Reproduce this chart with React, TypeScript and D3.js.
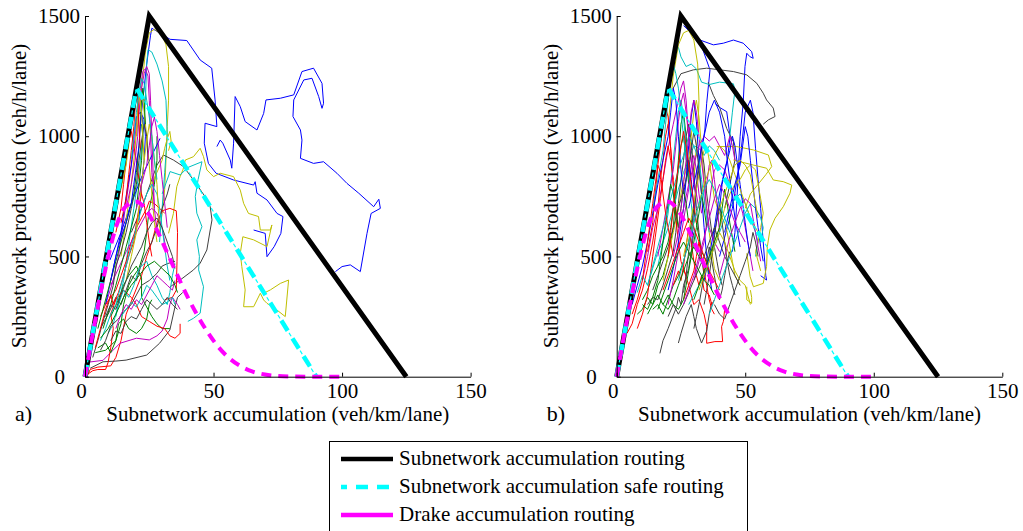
import * as React from "react";
import { useRef, useEffect } from "react";
import * as d3 from "d3";

// axis ticks
const xTicks = [0, 50, 100, 150];
const yTicks = [0, 500, 1000, 1500];

// reference curves, flat [k, p, k, p, ...] in veh/km/lane and veh/h/lane
const mfdCurve = [0, 0, 25, 1500, 125, 0];
const safeCurve = [0, 0, 20, 1200, 90, 0];
const drakeCurve = [0, 0, 4, 235, 8, 450, 12, 620, 16, 710, 20, 728, 24, 690, 28, 610, 32, 515, 36, 420, 40, 330, 44, 250, 48, 180, 52, 122, 56, 78, 60, 47, 65, 22, 70, 9, 75, 3, 80, 1, 90, 0, 100, 0];

const legendLabels = [
  "Subnetwork accumulation routing",
  "Subnetwork accumulation safe routing",
  "Drake accumulation routing",
];

// panel a) measured subnetwork trajectories
const trajA = [
  [22, 1100, 24, 1300, 25.5, 1420, 26, 1449, 33.1, 1403, 39.6, 1398, 44.8, 1317, 49.3, 1283, 50.6, 1151, 51.3, 1040, 46.7, 1054, 46.4, 971, 48, 887, 51, 846, 57.8, 818, 65.6, 797, 66.2, 811, 66.9, 763, 70.8, 735, 74.7, 679, 77, 666, 76.2, 596, 73.6, 541, 70.8, 499, 70.1, 596, 65.6, 610],
  [51.3, 957, 52.6, 984, 53.6, 971, 56.5, 901, 57.1, 867, 57.8, 971, 58.4, 1165, 60.4, 1123, 62.3, 1061, 66.9, 1026, 69.5, 1095, 70.4, 1151, 76, 1158, 81.2, 1172, 84.4, 1269, 88.9, 1283, 92.2, 1220, 92.8, 1137, 92.2, 1116, 90.9, 1165, 88.3, 1241, 85.1, 1234, 81.2, 1151, 80.9, 1082, 83.8, 1026, 84.4, 984, 83.8, 908, 88.9, 887, 92.8, 894, 98, 846, 101.9, 804, 106.5, 763, 112.3, 707, 114.3, 738, 114.9, 700, 111.3, 679, 109.7, 596, 107.1, 437, 103.2, 465, 100, 458, 97.4, 437],
  [20, 1000, 22, 1200, 23.5, 1350, 25, 1430, 27, 1445, 30, 1420, 31.5, 1380, 32.5, 1290, 32.5, 1150, 32, 1040, 31.5, 900, 31, 780, 30, 680, 29, 600],
  [32.5, 596, 34.4, 679, 35.7, 790, 37, 832, 38.1, 860, 39, 901, 42.2, 915, 44.8, 950, 46.1, 915, 47.4, 860, 50, 832, 52.6, 846, 57.8, 832, 60.4, 776, 61.7, 721, 63.6, 679, 67.5, 666, 68.2, 610, 72.1, 610, 72.7, 631, 70.8, 541, 65.6, 569, 61.4, 582, 60.4, 513, 61, 458, 62.3, 361, 61.7, 291, 65.6, 291, 68.2, 347, 69.5, 319, 70.8, 305, 74.7, 277, 77.9, 250, 79.2, 402, 76, 388, 72.1, 361, 69.5, 347],
  [12, 250, 15, 400, 17, 550, 19, 700, 21, 850, 22.5, 1000, 23.5, 1150, 24, 1300, 24.5, 1360, 26, 1350, 28, 1300, 30, 1230, 31.5, 1150, 32, 1000, 31, 850, 30, 700, 29, 560],
  [30, 760, 33.1, 853, 37, 839, 40, 870, 45.5, 894, 44, 820, 42.9, 749, 43.5, 680, 45.5, 624, 43.5, 569, 44.5, 500, 44.2, 444, 46.1, 374, 44.8, 264, 42.2, 243, 40, 230],
  [18, 600, 22, 700, 26, 820, 28, 880, 30.5, 922, 34.4, 901, 38.3, 874, 42.2, 818, 46.7, 749, 48.7, 707, 49.4, 652, 48.7, 610, 47.4, 527, 44.8, 472, 42.2, 444, 37, 402, 33.1, 374],
  [1, 5, 2, 30, 5, 40, 10, 45, 12, 80, 14, 150, 16, 260, 19, 340, 22, 420, 24, 500, 26, 560, 28, 640, 30, 690, 33, 700, 35.5, 690, 36, 600, 35.8, 480, 35.5, 360, 34, 330, 31, 320],
  [2, 35, 7, 62, 12, 65, 16, 69, 24, 90, 29, 139, 33, 194, 35, 290, 36, 330, 38, 350],
  [1, 60, 7, 68, 13.6, 139, 20, 160, 25, 153, 28, 170, 30, 190, 32, 240, 33, 300, 34, 330, 36, 300, 37, 280],
  [4, 100, 8, 110, 12, 150, 14, 220, 15, 300, 17, 380, 19, 420, 21, 450, 23, 520, 24, 600, 25, 700, 27, 800, 28, 900, 28, 1000],
  [10, 250, 13, 320, 15, 380, 17, 420, 20, 460, 22, 410, 22, 330, 24, 290, 26, 250, 28, 220, 30, 200, 33, 200],
  [8, 300, 11, 400, 13, 500, 15, 650, 17, 800, 19, 950, 20.5, 1100, 21.5, 1200, 22.5, 1270, 23.5, 1280, 24.5, 1250, 25, 1150, 25.5, 1000, 26, 850, 27, 700, 28, 600],
  [8, 300, 11, 450, 14, 600, 16, 750, 18, 880, 19, 1000, 20, 1080, 21.5, 1100, 23, 1070, 23.5, 1000, 23, 900, 22, 800, 21, 650],
  [9.7, 485, 14, 600, 18, 720, 22, 830, 26, 920, 29.2, 991],
  [6, 250, 8, 300, 10, 330, 12, 360, 14, 420, 16, 480, 18, 560, 20, 620, 22, 660, 24, 700, 25, 730, 27, 720, 29, 700, 31, 680],
  [14, 500, 16, 650, 18, 800, 19.5, 950, 20.5, 1100, 21, 1200, 22, 1190, 23, 1100, 24, 1000, 25, 880, 26, 760, 27, 640, 28, 560],
  [6, 200, 9, 260, 12, 330, 14, 300, 16, 360, 18, 420, 20, 400, 22, 470, 24, 520, 26, 560, 28, 620, 30, 700, 32, 760, 33, 800],
  [1, 10, 3, 25, 5, 30, 8, 30, 9, 60, 10, 120, 11, 200, 10, 260, 12, 320, 15, 360, 18, 330, 20, 300, 22, 250, 25, 230, 28, 210, 31, 200, 33, 170, 35, 160, 37, 180, 37, 220],
  [9, 180, 11, 220, 13, 300, 15, 360, 17, 330, 19, 380, 21, 450, 24, 480, 26, 420, 28, 380, 30, 330, 32, 300, 33, 350, 34, 420, 35, 470],
  [10, 380, 13, 450, 16, 520, 19, 580, 22, 640, 24, 680, 26, 700, 28, 680, 30, 620, 31, 560, 32, 520, 33, 480, 34, 460],
  [5, 120, 8, 140, 10, 100, 12, 150, 13, 220, 15, 240, 17, 200, 20, 180, 22, 200, 24, 240, 25, 300, 26, 320],
  [6, 110, 8, 150, 10, 210, 13, 240, 15, 270, 18, 300, 20, 340, 22, 380, 25, 400, 28, 430, 30, 460, 32, 470, 35, 480],
  [26, 800, 28, 850, 30, 900, 31, 950, 32, 990, 33, 1020, 33.5, 980, 32.5, 940],
  [12, 600, 14, 700, 15, 800, 16, 900, 17, 980, 18, 1020, 19, 960, 20, 900, 21, 820, 22, 760],
  [14, 250, 16, 280, 18, 310, 20, 290, 22, 330, 24, 380, 26, 360, 28, 330, 30, 300, 32, 310, 34, 330, 35, 300],
  [7, 200, 10, 300, 12, 380, 14, 460, 16, 540, 18, 620, 20, 700, 21, 800, 22, 900, 22.5, 1000, 22, 1050],
  [16, 700, 18, 800, 19.5, 900, 20.5, 1000, 21, 1100, 22, 1200, 23, 1260, 24, 1290, 25, 1260, 25.5, 1150, 26, 1000, 26.5, 850, 27, 700],
  [3, 80, 5, 150, 7, 230, 9, 300, 11, 380, 12, 460, 14, 520, 16, 600, 18, 700, 20, 800, 21, 900, 22, 980, 23, 1050, 24, 1000, 24.5, 900],
  [4, 120, 6, 200, 8, 280, 10, 340, 11, 300, 13, 350, 15, 420, 17, 500, 19, 560, 20, 640, 21, 700, 22, 760, 23, 720, 24, 640, 25, 560, 26, 500],
  [6, 150, 8, 200, 10, 260, 12, 300, 14, 380, 16, 460, 18, 540, 20, 620, 22, 700, 24, 760, 26, 800, 28, 760, 29, 700, 30, 620, 31, 540, 32, 460, 33, 400],
  [5, 200, 7, 280, 9, 360, 11, 440, 13, 520, 15, 600, 17, 680, 19, 760, 20, 850, 21, 950, 21.5, 1050, 22, 1150, 22.5, 1200, 23, 1150, 23.5, 1050],
  [12, 200, 14, 260, 16, 300, 18, 280, 20, 320, 22, 300, 24, 340, 26, 380, 28, 420, 30, 400, 32, 380, 34, 360, 35, 400],
  [16, 400, 18, 500, 20, 600, 21, 700, 22, 800, 23, 900, 24, 980, 25, 1050, 26, 1000, 27, 900, 28, 800, 28.5, 700, 29, 620],
  [10, 400, 12, 500, 14, 580, 16, 640, 18, 720, 19, 800, 20, 880, 21, 960, 21.5, 1040, 22, 1100, 22.5, 1050],
  [8, 250, 10, 300, 12, 280, 14, 340, 16, 400, 18, 460, 20, 500, 22, 540, 24, 600, 26, 640, 28, 660, 30, 620, 32, 560, 34, 500, 35, 450],
  [14, 640, 16, 740, 17, 840, 18, 940, 19, 1040, 19.5, 1120, 20, 1180, 20.5, 1150, 21, 1050, 21.5, 950],
  [6, 160, 9, 200, 12, 260, 15, 330, 18, 380, 21, 420, 24, 460, 27, 480, 30, 450, 33, 420, 35, 380, 36, 350],
  [18, 900, 19, 1000, 20, 1100, 21, 1180, 22, 1240, 23, 1220, 24, 1150, 25, 1080, 26, 1000, 27, 900, 28, 820],
  [20, 700, 22, 800, 24, 880, 25, 960, 26, 1040, 27, 1080, 28, 1020, 29, 920, 30, 820, 31, 720, 32, 620],
  [10, 150, 12, 190, 14, 180, 16, 230, 18, 250, 20, 240, 22, 280, 24, 320, 26, 300, 28, 280, 30, 300, 32, 330, 34, 300, 36, 280],
  [12, 700, 14, 780, 16, 880, 17, 960, 18, 1060, 19, 1150, 20, 1200, 21, 1180, 22, 1100, 22.5, 1000, 23, 900],
];
const trajAColors = ["b", "b", "y", "y", "c", "c", "k", "r", "k", "m", "g", "g", "m", "b", "b", "r", "y", "k", "r", "c", "m", "g", "k", "y", "r", "c", "g", "m", "k", "r", "c", "g", "m", "y", "b", "k", "r", "g", "c", "m", "k", "y"];

// panel b) measured subnetwork trajectories
const trajB = [
  [26, 1460, 28, 1440, 30, 1420, 32.4, 1400, 37.6, 1380, 41.5, 1387, 45.4, 1400, 49.2, 1387, 52.5, 1352, 53.1, 1324, 51.8, 1331, 50.6, 1345, 49.9, 1290, 49.2, 1137, 48, 998, 47.3, 860, 46.7, 721, 46, 600, 45, 520],
  [33.5, 1360, 36.3, 1276, 35, 1137, 34.3, 1026, 32.4, 901, 31, 780, 30, 650, 29, 540],
  [38.2, 1137, 40, 1120, 42.8, 1102, 44.1, 998, 43, 900, 41, 800, 40, 700, 38, 600, 37, 500],
  [40, 500, 45, 700, 48, 900, 50, 1100, 52, 1150, 53, 1100, 54, 950, 55, 820, 56, 700, 57, 560, 58, 420, 58.3, 402, 56, 420],
  [22, 1200, 25, 1260, 29.8, 1276, 35, 1283, 40.2, 1276, 45.4, 1269, 50.6, 1255, 54.5, 1220, 57, 1179, 58.3, 1151, 60.9, 1117, 61.6, 1082, 59, 1068, 57, 1050],
  [35.6, 1225, 37.6, 1170, 40.2, 1115, 42.8, 1032, 45.4, 977, 46, 900, 44, 800, 42, 700],
  [23, 1360, 24, 1370, 25, 1330, 27, 1290, 29, 1300, 31, 1280, 33, 1225, 36, 1215, 40, 1225, 44, 1220, 45.4, 1218, 46, 1190, 45, 1100, 44, 1000],
  [20, 1050, 22, 1250, 24, 1380, 26, 1430, 28, 1440, 30, 1400, 31.5, 1300, 32, 1150, 31.5, 1000, 30.5, 900, 30, 800],
  [45.4, 901, 53.2, 880, 58.3, 867, 60.9, 818, 64.8, 811, 68.1, 797, 67.4, 763, 64.8, 707, 61.6, 659, 59.6, 610, 58.6, 541, 58.3, 458, 57, 388, 53.2, 374, 51.9, 416, 50.6, 513],
  [38.9, 957, 46.7, 957, 53.2, 943, 59, 922, 60.3, 874, 58, 840, 55, 800, 52, 760, 50, 700],
  [50.6, 374, 50.6, 320, 52.5, 305, 52.5, 330, 52, 360],
  [26, 450, 28, 380, 30, 300, 32, 320, 34, 260, 35, 208, 35, 139, 38.2, 146, 41.2, 146, 40.8, 208, 41.5, 230, 42, 280],
  [16.8, 97, 18, 150, 20, 200, 23.3, 291, 24, 330, 25, 300, 26, 380, 28, 450, 29, 520, 30, 600],
  [24, 140, 25, 180, 27, 250, 29, 300, 30, 250, 31, 200, 33, 140, 35, 190, 36, 260, 37, 310],
  [4, 180, 6, 220, 8, 300, 10, 360, 12, 450, 14, 560, 16, 700, 17, 820, 18, 900, 19, 1000, 20, 1050, 21, 950, 22, 800, 23, 700, 24, 620],
  [8, 260, 10, 280, 12, 330, 14, 300, 16, 380, 18, 420, 20, 500, 22, 620, 23, 750, 24, 900, 25, 1050, 26, 1100, 27, 1000, 28, 850, 29, 750],
  [10, 400, 12, 500, 14, 620, 16, 700, 18, 820, 20, 950, 22, 1050, 24, 1150, 25, 1200, 26, 1230, 27, 1150, 28, 1000, 29, 900, 30, 800, 31, 750],
  [8, 350, 10, 420, 12, 380, 14, 450, 16, 520, 18, 560, 20, 620, 22, 700, 24, 780, 26, 850, 28, 900, 30, 960, 32, 950, 34, 920, 36, 960, 38, 940, 40, 900],
  [12, 300, 14, 330, 16, 320, 18, 380, 20, 450, 22, 520, 23, 600, 24, 720, 25, 820, 26, 900, 27, 1000, 28, 1050, 29, 980, 30, 850, 31, 700, 32, 600, 33, 500, 34, 420],
  [12, 520, 14, 640, 15, 760, 16, 880, 17, 960, 18, 1050, 19, 1120, 20, 1080, 21, 950, 22, 800, 23, 660, 24, 560, 25, 480, 27, 420],
  [14, 280, 16, 300, 18, 260, 20, 320, 22, 380, 24, 420, 26, 480, 28, 560, 29, 640, 30, 700, 31, 640, 32, 580, 33, 520, 35, 480, 36, 400],
  [18, 400, 20, 500, 22, 600, 24, 700, 26, 820, 28, 900, 29, 1000, 30, 1100, 31, 1150, 32, 1080, 33, 950, 34, 820, 35, 700, 36, 600, 37, 520, 38, 450, 40, 400],
  [20, 300, 22, 400, 24, 520, 26, 650, 28, 780, 29, 880, 30, 920, 31, 860, 32, 760, 33, 680, 34, 720, 35, 800, 36, 880, 37, 900, 38, 820, 39, 720, 40, 600],
  [16, 460, 18, 560, 20, 680, 21, 800, 22, 900, 23, 1000, 24, 1100, 25, 1150, 26, 1080, 27, 960, 28, 840, 29, 720, 30, 620, 31, 560, 32, 520, 33, 470],
  [26, 350, 27, 420, 28, 520, 29, 600, 30, 700, 31, 800, 32, 900, 33, 950, 34, 880, 35, 760, 36, 680, 37, 600, 38, 540, 39, 480, 40, 420, 41, 380],
  [20, 360, 22, 450, 24, 560, 26, 700, 27, 820, 28, 960, 29, 1080, 30, 1150, 31, 1060, 32, 900, 33, 760, 34, 620, 35, 500, 36, 420, 37, 360],
  [22, 380, 24, 440, 25, 400, 26, 460, 27, 540, 28, 620, 29, 560, 30, 480, 31, 420, 32, 380, 33, 420, 34, 360, 36, 340, 37, 300, 38, 320],
  [10, 320, 12, 360, 14, 420, 16, 460, 18, 500, 20, 560, 21, 620, 22, 700, 23, 780, 24, 860, 25, 960, 26, 1000, 27, 920, 28, 800],
  [26, 500, 28, 600, 30, 720, 32, 840, 33, 900, 34, 940, 35, 960, 36, 900, 37, 820, 38, 740, 40, 680, 42, 640, 43, 600, 44, 540, 45, 480, 46, 420, 48, 380],
  [30, 400, 32, 480, 34, 560, 35, 640, 36, 720, 37, 800, 38, 860, 40, 880, 42, 860, 44, 800, 46, 760, 48, 720, 49, 680, 50, 620, 51, 560, 52, 500, 53, 440],
  [28, 300, 30, 340, 32, 380, 34, 420, 36, 480, 38, 540, 40, 600, 42, 660, 44, 700, 46, 740, 48, 760, 50, 720, 52, 660, 54, 600, 55, 560, 54, 500],
  [34, 300, 35, 360, 36, 420, 37, 500, 38, 580, 39, 660, 40, 720, 41, 640, 42, 560, 43, 480, 44, 420, 45, 380, 46, 340],
  [34, 400, 36, 500, 38, 620, 40, 760, 42, 860, 44, 940, 45, 1000, 46, 960, 47, 880, 48, 800, 49, 720, 50, 640, 51, 560, 52, 500],
  [26, 320, 28, 380, 30, 440, 31, 500, 32, 560, 33, 500, 34, 440, 35, 380, 36, 320, 37, 280, 38, 260],
  [18, 300, 20, 340, 22, 300, 24, 280, 26, 320, 27, 380, 28, 440, 29, 500, 30, 560, 31, 620, 32, 680, 33, 760, 34, 700, 35, 620],
  [24, 600, 26, 700, 28, 800, 30, 880, 32, 960, 34, 1000, 36, 980, 38, 1000, 40, 960, 42, 920, 44, 1000, 45, 960, 46, 900],
  [36, 500, 38, 560, 40, 620, 42, 700, 44, 760, 46, 800, 48, 820, 50, 860, 52, 880, 54, 860, 55, 800, 56, 740, 57, 680, 56, 620, 55, 560, 54, 520, 55, 480, 56, 440],
  [14, 700, 16, 820, 18, 940, 19, 1050, 20, 1150, 21, 1250, 22, 1300, 23, 1260, 24, 1200, 25, 1100, 26, 1000, 27, 900],
  [30, 200, 31, 250, 32, 300, 33, 360, 34, 420, 35, 480, 36, 540, 37, 480, 38, 420, 39, 360, 40, 320, 41, 360, 42, 420, 43, 480, 44, 520],
  [8, 200, 10, 260, 12, 340, 13, 420, 14, 500, 15, 580, 16, 660, 17, 740, 18, 820, 19, 900, 20, 960, 21, 900, 22, 820],
  [12, 260, 14, 300, 16, 340, 18, 300, 20, 280, 22, 320, 24, 380, 26, 440, 28, 500, 30, 540, 32, 500, 34, 460],
  [16, 500, 18, 620, 20, 740, 22, 860, 23, 960, 24, 1060, 25, 1140, 26, 1180, 27, 1100, 28, 1000, 29, 900, 30, 820, 31, 760, 32, 700],
  [6, 300, 8, 380, 10, 460, 12, 560, 14, 680, 16, 800, 18, 900, 20, 1000, 21, 1100, 22, 1200, 23, 1150, 24, 1000, 25, 860, 26, 760, 27, 820, 28, 900, 29, 820, 30, 700],
  [10, 300, 12, 280, 14, 330, 16, 400, 17, 480, 18, 560, 19, 640, 20, 720, 21, 800, 22, 760, 23, 680, 24, 620, 25, 700, 26, 780, 27, 720, 28, 640],
  [6, 260, 8, 320, 10, 400, 11, 480, 12, 560, 13, 640, 14, 720, 15, 800, 16, 880, 17, 850, 18, 760, 19, 680, 20, 620, 21, 560, 22, 500],
  [12, 380, 14, 460, 16, 540, 18, 620, 20, 700, 22, 780, 24, 860, 26, 920, 28, 1000, 30, 960, 32, 900, 33, 820, 34, 740, 35, 660, 36, 600],
  [22, 500, 24, 600, 25, 700, 26, 800, 27, 900, 28, 1000, 29, 1100, 30, 1150, 31, 1100, 32, 1000, 33, 900, 34, 800, 35, 700, 36, 620, 38, 560, 40, 520],
  [28, 560, 30, 640, 32, 720, 34, 800, 36, 860, 38, 920, 40, 960, 42, 940, 44, 900, 46, 840, 48, 780, 50, 720, 52, 660, 54, 620, 56, 580],
  [20, 250, 22, 300, 24, 260, 26, 300, 28, 350, 30, 400, 32, 450, 34, 500, 36, 560, 38, 620, 40, 560, 42, 500, 44, 460, 46, 420, 48, 380],
  [28, 700, 30, 800, 32, 900, 34, 1000, 36, 1100, 38, 1150, 40, 1100, 42, 1000, 43, 900, 44, 820, 45, 740, 46, 660, 47, 600, 48, 540],
  [18, 360, 20, 420, 22, 480, 24, 540, 26, 600, 28, 660, 30, 620, 32, 560, 34, 500, 36, 440, 38, 400, 40, 360],
  [30, 320, 32, 380, 34, 440, 36, 500, 38, 560, 40, 620, 41, 700, 42, 780, 43, 720, 44, 640, 45, 580, 46, 520],
  [36, 260, 38, 320, 40, 380, 42, 440, 44, 500, 46, 560, 48, 620, 50, 680, 52, 720, 54, 700, 56, 660, 57, 620, 56, 560],
  [40, 420, 42, 500, 44, 580, 46, 640, 48, 700, 50, 740, 52, 720, 53, 660, 54, 600, 55, 540, 56, 480],
  [32, 360, 34, 420, 36, 480, 38, 540, 40, 600, 42, 560, 44, 500, 46, 440, 48, 400, 50, 380, 51, 340, 52, 300],
  [14, 360, 16, 420, 18, 480, 20, 540, 22, 620, 24, 700, 26, 780, 28, 860, 29, 940, 30, 1020, 31, 960, 32, 860, 33, 760],
  [42, 600, 44, 700, 46, 800, 48, 880, 49, 960, 50, 1040, 51, 1000, 52, 900, 53, 800, 54, 700, 55, 620, 56, 540, 57, 480],
  [20, 500, 21, 600, 22, 700, 23, 800, 24, 880, 25, 960, 26, 1020, 27, 960, 28, 880, 29, 800, 30, 720, 31, 640],
  [16, 280, 18, 340, 20, 400, 22, 460, 24, 520, 26, 560, 28, 520, 30, 480, 32, 440, 34, 400, 36, 380, 38, 340],
  [26, 300, 28, 360, 30, 420, 32, 500, 34, 580, 36, 660, 38, 740, 40, 800, 42, 760, 44, 700, 46, 640, 48, 600, 50, 560],
  [24, 400, 26, 480, 28, 560, 30, 640, 32, 720, 34, 780, 36, 820, 38, 780, 40, 720, 42, 660, 44, 600, 46, 560],
  [40, 700, 42, 760, 44, 820, 46, 880, 48, 900, 50, 880, 52, 840, 53, 780, 54, 720, 55, 660],
  [38, 300, 40, 260, 42, 240, 44, 300, 46, 360, 48, 420, 50, 480, 52, 540, 53, 600, 54, 560, 55, 500],
];
const trajBColors = ["b", "b", "b", "b", "k", "k", "c", "y", "y", "y", "y", "r", "k", "k", "r", "g", "m", "c", "k", "r", "g", "y", "m", "c", "k", "b", "r", "g", "y", "m", "c", "k", "b", "r", "g", "m", "y", "c", "k", "r", "g", "m", "b", "g", "r", "c", "m", "y", "k", "b", "r", "g", "c", "m", "y", "k", "b", "r", "g", "m", "c", "y", "k"];

const colorOf = {
  b: "#0000ff",
  g: "#008000",
  r: "#ff0000",
  c: "#00bfbf",
  m: "#bf00bf",
  y: "#bfbf00",
  k: "#404040",
};

const FONT = "'Liberation Serif', 'Times New Roman', serif";
const FS = 21;

const toPairs = (flat) => d3.range(0, flat.length, 2).map((i) => [flat[i], flat[i + 1]]);

function drawPanel(svg, left, trajs, colors, tag) {
  const x = d3.scaleLinear().domain([0, 150]).range([left, left + 385.6]);
  const y = d3.scaleLinear().domain([0, 1500]).range([376.7, 16]);
  const line = d3.line().x((d) => x(d[0])).y((d) => y(d[1]));
  const g = svg.append("g");

  // trajectories
  trajs.forEach((t, i) => {
    g.append("path")
      .attr("d", line(toPairs(t)))
      .attr("fill", "none")
      .attr("stroke", colorOf[colors[i]])
      .attr("stroke-width", 1)
      .attr("stroke-linejoin", "round");
  });

  // MFD triangle
  g.append("path")
    .attr("d", line(toPairs(mfdCurve)))
    .attr("fill", "none")
    .attr("stroke", "#000")
    .attr("stroke-width", 5);

  // safe routing, dash-dot
  g.append("path")
    .attr("d", line(toPairs(safeCurve)))
    .attr("fill", "none")
    .attr("stroke", "#00ffff")
    .attr("stroke-width", 1.2)
    .attr("stroke-dasharray", "4,17")
    .attr("stroke-dashoffset", 6.5);
  g.append("path")
    .attr("d", line(toPairs(safeCurve)))
    .attr("fill", "none")
    .attr("stroke", "#00ffff")
    .attr("stroke-width", 4.5)
    .attr("stroke-dasharray", "12,9");

  // Drake
  const smooth = d3.line().x((d) => x(d[0])).y((d) => y(d[1])).curve(d3.curveMonotoneX);
  g.append("path")
    .attr("d", smooth(toPairs(drakeCurve)))
    .attr("fill", "none")
    .attr("stroke", "#ff00ff")
    .attr("stroke-width", 4)
    .attr("stroke-dasharray", "10,7");

  // axes
  const ay = g
    .append("g")
    .attr("transform", `translate(${left},0)`)
    .call(d3.axisLeft(y).tickValues(yTicks).tickFormat(d3.format("d")).tickSizeInner(-4).tickSizeOuter(0).tickPadding(5));
  const ax = g
    .append("g")
    .attr("transform", `translate(0,${y(0)})`)
    .call(d3.axisBottom(x).tickValues(xTicks).tickFormat(d3.format("d")).tickSizeInner(-4).tickSizeOuter(0).tickPadding(6));
  [ax, ay].forEach((a) => {
    a.attr("font-family", FONT).attr("font-size", FS);
    a.selectAll("text").attr("fill", "#000");
    a.selectAll("line, path").attr("stroke", "#000");
  });
  ay.selectAll(".tick text").filter((d) => d === 0).attr("x", -20);
  ax.selectAll(".tick text").filter((d) => d === 0).attr("x", -4);

  // labels
  g.append("text")
    .attr("transform", `translate(${left - 59},196) rotate(-90)`)
    .attr("text-anchor", "middle")
    .attr("font-family", FONT)
    .attr("font-size", FS)
    .text("Subnetwork production (veh/h/lane)");
  g.append("text")
    .attr("x", left + 192.8)
    .attr("y", 421)
    .attr("text-anchor", "middle")
    .attr("font-family", FONT)
    .attr("font-size", FS)
    .text("Subnetwork accumulation (veh/km/lane)");
  g.append("text")
    .attr("x", left - 70)
    .attr("y", 421)
    .attr("font-family", FONT)
    .attr("font-size", 22)
    .text(tag);
}

export default function App() {
  const svgRef = useRef(null);

  useEffect(() => {
    const svg = d3.select(svgRef.current);
    svg.selectAll("*").remove();

    drawPanel(svg, 85, trajA, trajAColors, "a)");
    drawPanel(svg, 616.7, trajB, trajBColors, "b)");

    // legend
    const lg = svg.append("g");
    lg.append("rect")
      .attr("x", 329.5)
      .attr("y", 441.5)
      .attr("width", 418)
      .attr("height", 100)
      .attr("fill", "#fff")
      .attr("stroke", "#000")
      .attr("stroke-width", 1);
    const rowY = d3.scalePoint().domain(legendLabels).range([459, 515]);
    legendLabels.forEach((lab, i) => {
      const yy = rowY(lab);
      if (i === 1) {
        lg.append("line")
          .attr("x1", 341).attr("x2", 393).attr("y1", yy).attr("y2", yy)
          .attr("stroke", "#00ffff").attr("stroke-width", 1.2)
          .attr("stroke-dasharray", "4,17").attr("stroke-dashoffset", 0.5);
        lg.append("line")
          .attr("x1", 341).attr("x2", 393).attr("y1", yy).attr("y2", yy)
          .attr("stroke", "#00ffff").attr("stroke-width", 4.5)
          .attr("stroke-dasharray", "12,9").attr("stroke-dashoffset", 6);
      } else {
        lg.append("line")
          .attr("x1", 341).attr("x2", 393).attr("y1", yy).attr("y2", yy)
          .attr("stroke", i === 0 ? "#000" : "#ff00ff")
          .attr("stroke-width", 4.5);
      }
      lg.append("text")
        .attr("x", 399)
        .attr("y", yy + 6)
        .attr("font-family", FONT)
        .attr("font-size", FS)
        .text(lab);
    });
  }, []);

  return (
    <svg
      ref={svgRef}
      width={1023}
      height={531}
      style={{ position: "absolute", left: 0, top: 0, background: "#fff" }}
    ></svg>
  );
}
